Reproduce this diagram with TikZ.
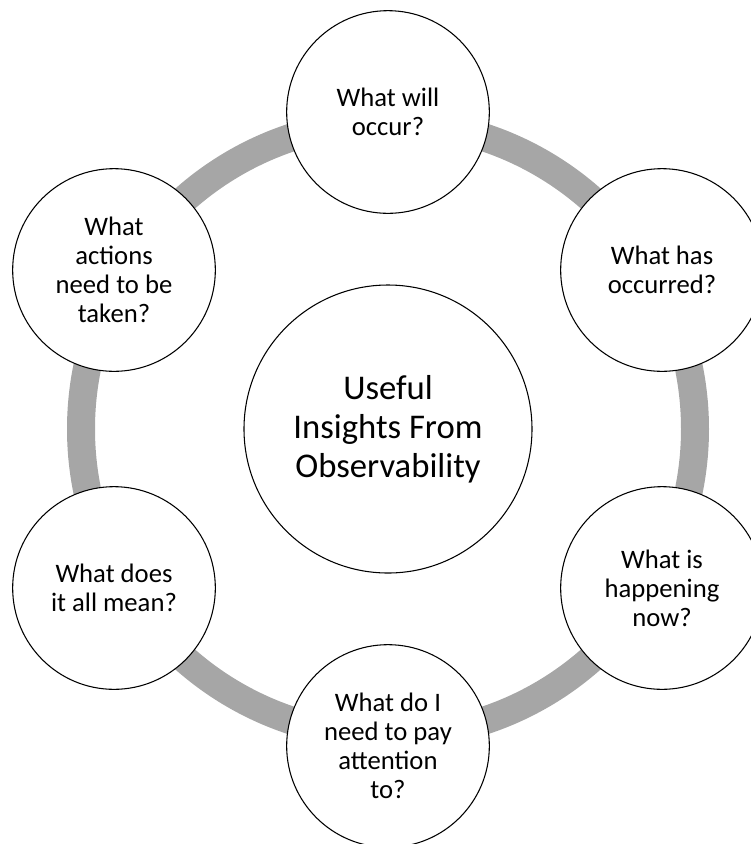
\documentclass[tikz,border=0pt]{standalone}
\usepackage{fontspec}
\setmainfont{Carlito}
\usepackage{tikz}

\definecolor{ringgray}{HTML}{A6A6A6}

\tikzset{
	ring/.style={draw=ringgray, line width=21pt},
	bubble/.style={circle, draw=black, line width=0.8pt, fill=white, inner sep=0pt,
		minimum size=152pt, align=center, font=\fontsize{20pt}{21.75pt}\selectfont},
	hub/.style={bubble, minimum size=216pt, font=\fontsize{26pt}{29.25pt}\selectfont}
}

\begin{document}
\begin{tikzpicture}[x=0.75pt, y=-0.75pt]
				\clip (0,0) rectangle (751,844);
				
				\coordinate (c) at (388,429);
				\coordinate (1) at (388,112);
				\coordinate (2) at (662,270);
				\coordinate (3) at (662,588);
				\coordinate (4) at (388,746);
				\coordinate (5) at (114,588);
				\coordinate (6) at (114,270);
				
				% grey ring behind the bubbles
				\draw[ring] (c) circle (307);
				
				\node[hub] (core) at (c) {Useful\\Insights From\\Observability};
				
				\node[bubble] (will) at (1) {What will\\occur?};
				\node[bubble] (has) at (2) {What has\\occurred?};
				\node[bubble] (now) at (3) {What is\\happening\\now?};
				\node[bubble] (attn) at (4) {What do I\\need to pay\\attention\\to?};
				\node[bubble] (mean) at (5) {What does\\it all mean?};
				\node[bubble] (act) at (6) {What\\actions\\need to be\\taken?};
				
\end{tikzpicture}
\end{document}
